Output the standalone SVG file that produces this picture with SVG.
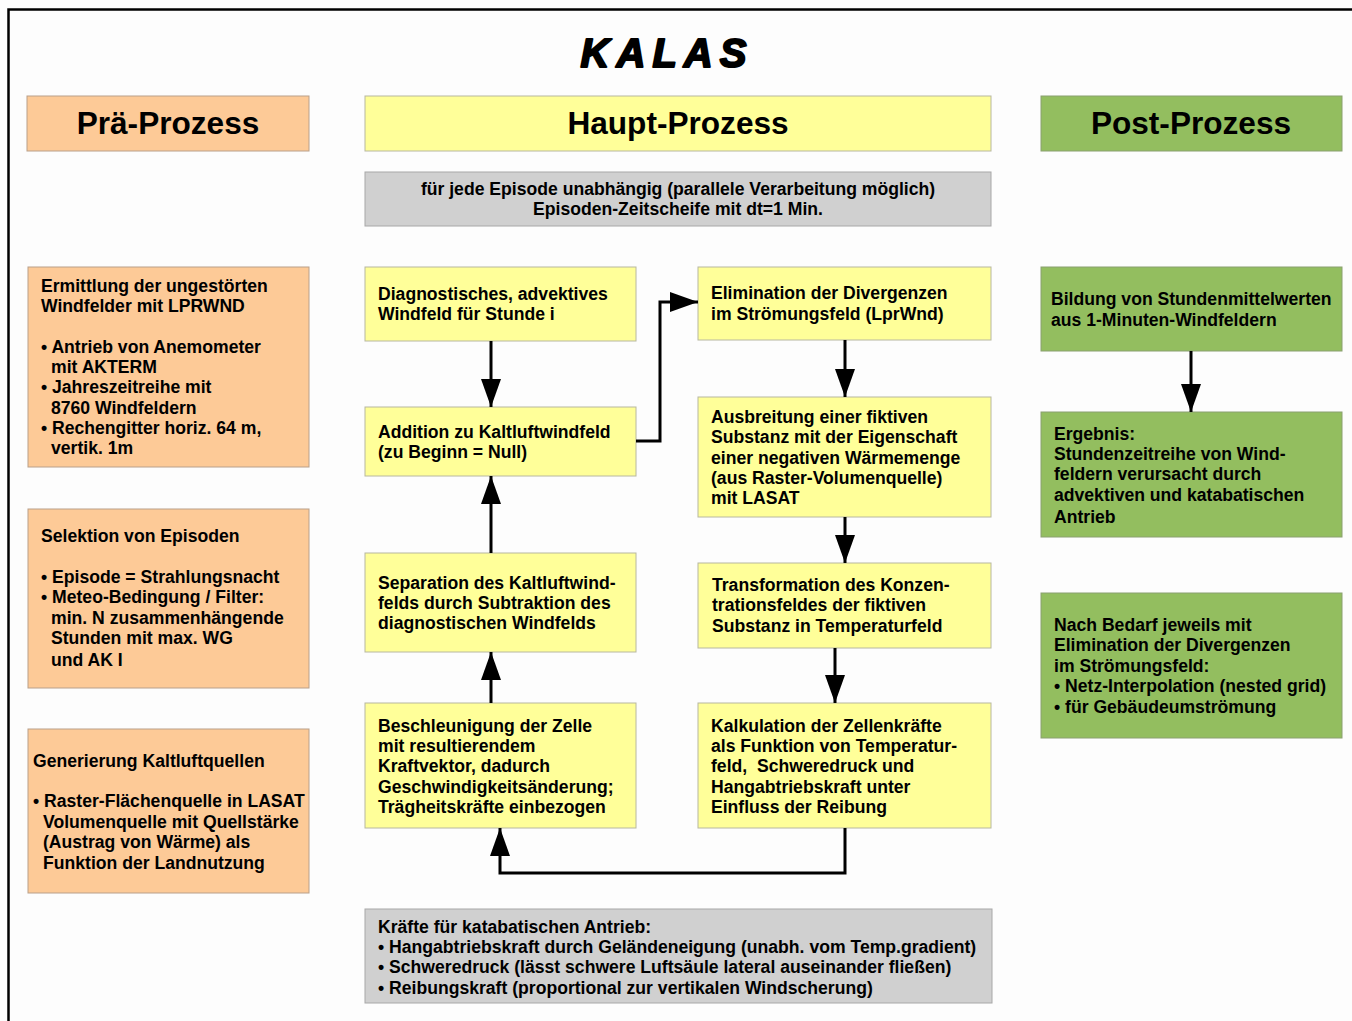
<svg xmlns="http://www.w3.org/2000/svg" width="1352" height="1021" viewBox="0 0 1352 1021">
<style>
text{font-family:"Liberation Sans",Arial,sans-serif;font-weight:bold;fill:#000}
.b{font-size:17.6px}
.h{font-size:31.6px}
.or{fill:#fdca97;stroke:#b9a08a;stroke-width:1}
.ye{fill:#ffff99;stroke:#b8b8a0;stroke-width:1}
.gr{fill:#93be5f;stroke:#8aa070;stroke-width:1}
.gy{fill:#d0d0d0;stroke:#a8a8a8;stroke-width:1}
.c{fill:none;stroke:#000;stroke-width:3}
</style>
<defs>
<marker id="ah" viewBox="0 0 28 20" refX="28" refY="10" markerWidth="28" markerHeight="20" markerUnits="userSpaceOnUse" orient="auto">
<path d="M0,0 L28,10 L0,20 Z" fill="#000"/>
</marker>
</defs>
<rect x="0" y="0" width="1352" height="1021" fill="#fdfdfd"/>
<path d="M8.5,1021 V9.5 H1352" fill="none" stroke="#000" stroke-width="2.5"/>
<text x="667" y="67" text-anchor="middle" font-size="40" font-style="italic" letter-spacing="7" stroke="#000" stroke-width="2" stroke-linejoin="round">KALAS</text>

<g id="hdr-pre"><rect class="or" x="27" y="96" width="282" height="55"/><text class="h" x="168" y="134" text-anchor="middle">Prä-Prozess</text></g>
<g id="hdr-main"><rect class="ye" x="365" y="96" width="626" height="55"/><text class="h" x="678" y="134" text-anchor="middle">Haupt-Prozess</text></g>
<g id="hdr-post"><rect class="gr" x="1041" y="96" width="301" height="55"/><text class="h" x="1191" y="134" text-anchor="middle">Post-Prozess</text></g>

<g id="episode"><rect class="gy" x="365" y="172" width="626" height="54"/>
<text class="b" x="678" y="195" text-anchor="middle">für jede Episode unabhängig (parallele Verarbeitung möglich)</text>
<text class="b" x="678" y="215" text-anchor="middle">Episoden-Zeitscheife mit dt=1 Min.</text></g>

<g id="pre1"><rect class="or" x="28" y="267" width="281" height="200"/>
<text class="b" x="41" y="292">Ermittlung der ungestörten</text>
<text class="b" x="41" y="312">Windfelder mit LPRWND</text>
<text class="b" x="41" y="353">• Antrieb von Anemometer</text>
<text class="b" x="51" y="373">mit AKTERM</text>
<text class="b" x="41" y="393">• Jahreszeitreihe mit</text>
<text class="b" x="51" y="414">8760 Windfeldern</text>
<text class="b" x="41" y="434">• Rechengitter horiz. 64 m,</text>
<text class="b" x="51" y="454">vertik. 1m</text></g>

<g id="pre2"><rect class="or" x="28" y="509" width="281" height="179"/>
<text class="b" x="41" y="542">Selektion von Episoden</text>
<text class="b" x="41" y="583">• Episode = Strahlungsnacht</text>
<text class="b" x="41" y="603">• Meteo-Bedingung / Filter:</text>
<text class="b" x="51" y="624">min. N zusammenhängende</text>
<text class="b" x="51" y="644">Stunden mit max. WG</text>
<text class="b" x="51" y="666">und AK I</text></g>

<g id="pre3"><rect class="or" x="28" y="729" width="281" height="164"/>
<text class="b" x="33" y="767">Generierung Kaltluftquellen</text>
<text class="b" x="33" y="807">• Raster-Flächenquelle in LASAT</text>
<text class="b" x="43" y="828">Volumenquelle mit Quellstärke</text>
<text class="b" x="43" y="848">(Austrag von Wärme) als</text>
<text class="b" x="43" y="869">Funktion der Landnutzung</text></g>

<g id="diag"><rect class="ye" x="365" y="267" width="271" height="74"/>
<text class="b" x="378" y="300">Diagnostisches, advektives</text>
<text class="b" x="378" y="320">Windfeld für Stunde i</text></g>

<g id="addition"><rect class="ye" x="365" y="407" width="271" height="69"/>
<text class="b" x="378" y="438">Addition zu Kaltluftwindfeld</text>
<text class="b" x="378" y="458">(zu Beginn = Null)</text></g>

<g id="separation"><rect class="ye" x="365" y="553" width="271" height="99"/>
<text class="b" x="378" y="589">Separation des Kaltluftwind-</text>
<text class="b" x="378" y="609">felds durch Subtraktion des</text>
<text class="b" x="378" y="629">diagnostischen Windfelds</text></g>

<g id="beschleunigung"><rect class="ye" x="365" y="703" width="271" height="125"/>
<text class="b" x="378" y="732">Beschleunigung der Zelle</text>
<text class="b" x="378" y="752">mit resultierendem</text>
<text class="b" x="378" y="772">Kraftvektor, dadurch</text>
<text class="b" x="378" y="793">Geschwindigkeitsänderung;</text>
<text class="b" x="378" y="813">Trägheitskräfte einbezogen</text></g>

<g id="elimination"><rect class="ye" x="698" y="267" width="293" height="73"/>
<text class="b" x="711" y="299">Elimination der Divergenzen</text>
<text class="b" x="711" y="320">im Strömungsfeld (LprWnd)</text></g>

<g id="ausbreitung"><rect class="ye" x="698" y="397" width="293" height="120"/>
<text class="b" x="711" y="423">Ausbreitung einer fiktiven</text>
<text class="b" x="711" y="443">Substanz mit der Eigenschaft</text>
<text class="b" x="711" y="464">einer negativen Wärmemenge</text>
<text class="b" x="711" y="484">(aus Raster-Volumenquelle)</text>
<text class="b" x="711" y="504">mit LASAT</text></g>

<g id="transformation"><rect class="ye" x="698" y="563" width="293" height="85"/>
<text class="b" x="712" y="591">Transformation des Konzen-</text>
<text class="b" x="712" y="611">trationsfeldes der fiktiven</text>
<text class="b" x="712" y="632">Substanz in Temperaturfeld</text></g>

<g id="kalkulation"><rect class="ye" x="698" y="703" width="293" height="125"/>
<text class="b" x="711" y="732">Kalkulation der Zellenkräfte</text>
<text class="b" x="711" y="752">als Funktion von Temperatur-</text>
<text class="b" x="711" y="772" xml:space="preserve">feld,  Schweredruck und</text>
<text class="b" x="711" y="793">Hangabtriebskraft unter</text>
<text class="b" x="711" y="813">Einfluss der Reibung</text></g>

<g id="kraefte"><rect class="gy" x="365" y="909" width="627" height="94"/>
<text class="b" x="378" y="933">Kräfte für katabatischen Antrieb:</text>
<text class="b" x="378" y="953">• Hangabtriebskraft durch Geländeneigung (unabh. vom Temp.gradient)</text>
<text class="b" x="378" y="973">• Schweredruck (lässt schwere Luftsäule lateral auseinander fließen)</text>
<text class="b" x="378" y="994">• Reibungskraft (proportional zur vertikalen Windscherung)</text></g>

<g id="bildung"><rect class="gr" x="1041" y="267" width="301" height="84"/>
<text class="b" x="1051" y="305">Bildung von Stundenmittelwerten</text>
<text class="b" x="1051" y="326">aus 1-Minuten-Windfeldern</text></g>

<g id="ergebnis"><rect class="gr" x="1041" y="412" width="301" height="125"/>
<text class="b" x="1054" y="440">Ergebnis:</text>
<text class="b" x="1054" y="460">Stundenzeitreihe von Wind-</text>
<text class="b" x="1054" y="480">feldern verursacht durch</text>
<text class="b" x="1054" y="501">advektiven und katabatischen</text>
<text class="b" x="1054" y="523">Antrieb</text></g>

<g id="bedarf"><rect class="gr" x="1041" y="593" width="301" height="145"/>
<text class="b" x="1054" y="631">Nach Bedarf jeweils mit</text>
<text class="b" x="1054" y="651">Elimination der Divergenzen</text>
<text class="b" x="1054" y="672">im Strömungsfeld:</text>
<text class="b" x="1054" y="692">• Netz-Interpolation (nested grid)</text>
<text class="b" x="1054" y="713">• für Gebäudeumströmung</text></g>

<g id="connectors">
<path class="c" d="M491,341 V407" marker-end="url(#ah)"/>
<path class="c" d="M636,441 H660 V302 H698" marker-end="url(#ah)"/>
<path class="c" d="M491,553 V476" marker-end="url(#ah)"/>
<path class="c" d="M491,703 V652" marker-end="url(#ah)"/>
<path class="c" d="M845,340 V397" marker-end="url(#ah)"/>
<path class="c" d="M845,517 V563" marker-end="url(#ah)"/>
<path class="c" d="M835,648 V703" marker-end="url(#ah)"/>
<path class="c" d="M845,828 V873 H500 V828" marker-end="url(#ah)"/>
<path class="c" d="M1191,351 V412" marker-end="url(#ah)"/>
</g>
</svg>
